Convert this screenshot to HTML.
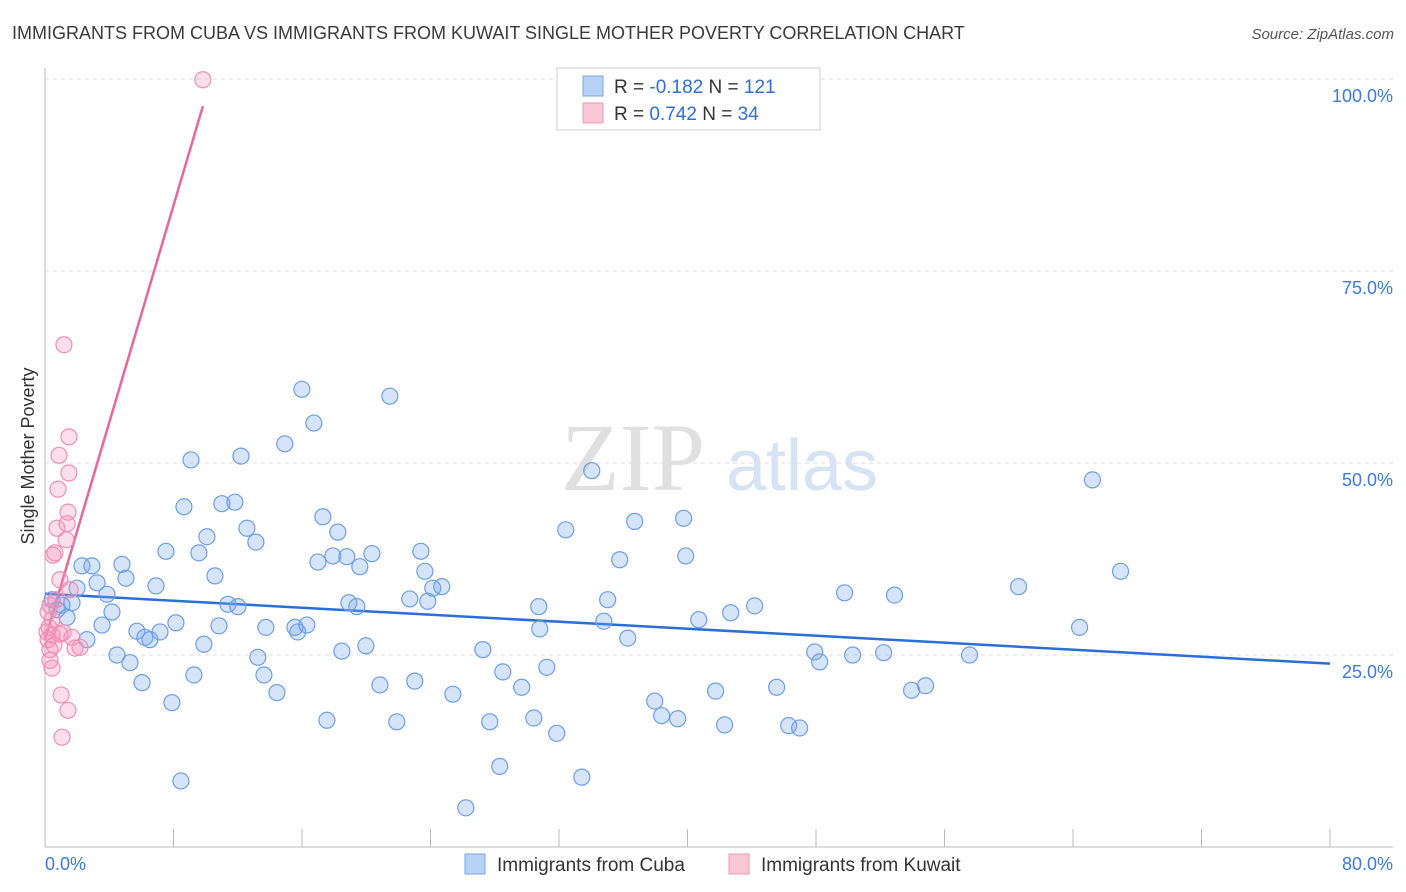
<!DOCTYPE html>
<html><head><meta charset="utf-8">
<style>
body{margin:0;background:#fff;font-family:"Liberation Sans",sans-serif;}
svg{display:block}
</style></head>
<body>
<svg id="chart" width="1406" height="892" viewBox="0 0 1406 892">
<text x="12" y="39" font-size="18" fill="#3a3a3a">IMMIGRANTS FROM CUBA VS IMMIGRANTS FROM KUWAIT SINGLE MOTHER POVERTY CORRELATION CHART</text>
<text x="1394" y="39" font-size="15" fill="#555" font-style="italic" text-anchor="end">Source: ZipAtlas.com</text>
<text x="34" y="456" font-size="18" fill="#333" text-anchor="middle" transform="rotate(-90 34 456)">Single Mother Poverty</text>
<g>
<text x="633" y="490" font-size="96" fill="#e0e0e0" font-family="Liberation Serif,serif" text-anchor="middle">ZIP</text>
<text x="802" y="490" font-size="72" fill="#d5e3f5" text-anchor="middle">atlas</text>
</g>
<g id="grid"></g>
<g id="axes"></g>
<g id="lines"></g>
<g id="points"></g>
<g>
<rect x="557" y="68" width="263" height="62" fill="#fff" stroke="#ccc"/>
<rect x="583" y="76" width="20" height="20" fill="#b8d2f5" stroke="#7aa6e6"/>
<rect x="583" y="103" width="20" height="20" fill="#f9c7d6" stroke="#f09ab6"/>
<text x="614" y="93" font-size="19" fill="#333">R = <tspan fill="#2f6fd6">-0.182</tspan>   N = <tspan fill="#2f6fd6">121</tspan></text>
<text x="614" y="120" font-size="19" fill="#333">R =  <tspan fill="#2f6fd6">0.742</tspan>   N =  <tspan fill="#2f6fd6">34</tspan></text>
</g>
<g>
<rect x="465" y="854" width="20" height="20" fill="#b8d2f5" stroke="#7aa6e6"/>
<text x="497" y="871" font-size="19" fill="#333">Immigrants from Cuba</text>
<rect x="729" y="854" width="20" height="20" fill="#f9c7d6" stroke="#f09ab6"/>
<text x="761" y="871" font-size="19" fill="#333">Immigrants from Kuwait</text>
</g>
</svg>
<script>
const cubaX=[0.44,0.75,1.06,1.37,1.68,1.99,2.30,2.61,2.92,3.24,3.55,3.86,4.17,4.48,4.79,5.04,5.29,5.72,6.04,6.22,6.53,6.91,7.16,7.53,7.90,8.15,8.46,8.65,9.09,9.27,9.58,9.89,10.08,10.58,10.83,11.01,11.39,11.82,12.01,12.20,12.57,13.13,13.25,13.63,13.75,14.44,14.93,15.56,15.74,15.99,16.30,16.74,16.99,17.30,17.55,17.92,18.23,18.48,18.79,18.92,19.41,19.60,19.98,20.35,20.85,21.47,21.90,22.71,23.02,23.40,23.65,23.83,24.14,24.70,25.39,26.20,27.26,27.69,28.31,28.50,29.68,30.43,30.74,30.80,31.24,31.86,32.42,33.42,34.04,34.79,35.03,35.78,36.28,36.71,37.96,38.39,39.39,39.76,39.89,40.70,41.75,42.31,42.69,44.18,45.55,46.30,46.98,47.92,48.23,49.78,50.28,52.21,52.89,53.95,54.82,57.56,60.61,64.41,65.21,66.96];
const cubaY=[32.2,30.9,31.5,29.9,31.8,33.7,36.6,27.0,36.6,34.4,28.9,32.9,30.6,25.0,36.8,35.0,24.0,28.1,21.4,27.3,27.0,34.0,28.0,38.5,18.8,29.2,8.6,44.3,50.4,22.4,38.3,26.4,40.4,35.3,28.8,44.7,31.6,44.9,31.3,50.9,41.5,39.7,24.7,22.4,28.6,20.1,52.5,28.6,28.0,59.6,28.9,55.2,37.1,43.0,16.5,37.9,41.0,25.5,37.8,31.8,31.3,36.5,26.2,38.2,21.1,58.7,16.3,32.3,21.6,38.5,35.9,32.0,33.7,33.9,19.9,5.1,25.7,16.3,10.5,22.8,20.8,16.8,31.3,28.4,23.4,14.8,41.3,9.1,49.0,29.4,32.2,37.4,27.2,42.4,19.0,17.1,16.7,42.8,37.9,29.6,20.3,15.9,30.5,31.4,20.8,15.8,15.5,25.4,24.1,33.1,25.0,25.3,32.8,20.4,21.0,25.0,33.9,28.6,47.8,35.9];
const kuwaitX=[0.31,0.44,0.25,0.31,0.44,0.50,0.62,0.75,0.81,0.87,0.93,1.00,1.06,1.12,1.18,1.31,1.37,1.43,1.49,1.49,1.56,1.43,1.68,1.87,2.18,0.31,0.19,0.56,0.68,0.19,0.44,9.83,0.93,0.12];
const kuwaitY=[31.5,29.6,28.6,24.3,23.3,38.0,38.3,41.5,46.6,51.0,34.8,19.8,14.3,27.9,65.4,40.0,42.1,43.6,53.4,48.7,33.5,17.8,27.3,25.9,26.0,25.7,27.0,26.3,32.2,30.6,27.6,99.9,27.7,28.0];
const yTicks=[25,50,75,100];
const yTickLabels=["25.0%","50.0%","75.0%","100.0%"];
const xTicks=[0,8,16,24,32,40,48,56,64,72,80];
const xEndLabels=["0.0%","80.0%"];
const NS="http://www.w3.org/2000/svg";
const xs=v=>45+v*(1330-45)/80;
const ys=v=>847-v*7.68;
function mk(tag,attrs,parent){const e=document.createElementNS(NS,tag);for(const k in attrs)e.setAttribute(k,attrs[k]);parent.appendChild(e);return e;}
const grid=document.getElementById('grid'),axes=document.getElementById('axes'),lines=document.getElementById('lines'),pts=document.getElementById('points');
yTicks.forEach((t,i)=>{
 const l=mk('line',{x1:45,x2:1393,y1:ys(t),y2:ys(t),stroke:'#ddd','stroke-dasharray':'4,4'},grid);
 
 
 const tx=mk('text',{x:1393,y:ys(t)+23,'font-size':18,fill:'#3d7ad8','text-anchor':'end'},axes);
 tx.textContent=yTickLabels[i];
 
 
});
const ax=mk('line',{x1:45,x2:1393,y1:847,y2:847,stroke:'#bbb'},axes);


const ay=mk('line',{x1:45,x2:45,y1:68,y2:847,stroke:'#bbb'},axes);


xTicks.forEach(t=>{
 const l=mk('line',{x1:xs(t),x2:xs(t),y1:829,y2:847,stroke:'#bbb'},axes);
 
 
});
const xl0=mk('text',{x:45,y:870,'font-size':18,fill:'#3d7ad8'},axes);
xl0.textContent=xEndLabels[0];


const xl1=mk('text',{x:1393,y:870,'font-size':18,fill:'#3d7ad8','text-anchor':'end'},axes);
xl1.textContent=xEndLabels[1];


function reg(X,Y){const n=X.length;let mx=0,my=0;for(let i=0;i<n;i++){mx+=X[i];my+=Y[i];}mx/=n;my/=n;let sxy=0,sxx=0;for(let i=0;i<n;i++){sxy+=(X[i]-mx)*(Y[i]-my);sxx+=(X[i]-mx)**2;}const b=sxy/sxx;return [my-b*mx,b];}
const [ca,cb]=reg(cubaX,cubaY);
const bl=mk('line',{x1:xs(0),y1:ys(ca),x2:xs(80),y2:ys(ca+cb*80),stroke:'#2a6fd6','stroke-width':2.5},lines);


const [ka,kb]=reg(kuwaitX,kuwaitY);
const kmax=Math.max(...kuwaitX);
const pl=mk('line',{x1:xs(0),y1:ys(ka),x2:xs(kmax),y2:ys(ka+kb*kmax),stroke:'#e8679a','stroke-width':2.5},lines);


cubaX.forEach((x,i)=>{
 const c=mk('circle',{cx:xs(x),cy:ys(cubaY[i]),r:8,fill:'rgba(120,165,235,0.3)',stroke:'#6d9ee6','stroke-width':1.2},pts);
 
 
});
kuwaitX.forEach((x,i)=>{
 const c=mk('circle',{cx:xs(x),cy:ys(kuwaitY[i]),r:8,fill:'rgba(245,150,185,0.3)',stroke:'#f08fb2','stroke-width':1.2},pts);
 
 
});
</script>
</body></html>
